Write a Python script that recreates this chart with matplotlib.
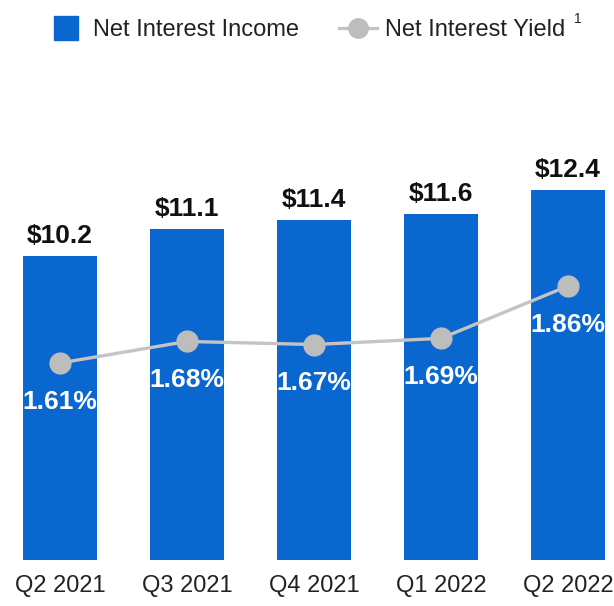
import matplotlib
matplotlib.use("Agg")
import matplotlib.pyplot as plt
from matplotlib.lines import Line2D

plt.rcParams['font.family'] = ['Liberation Sans', 'DejaVu Sans']

quarters = ["Q2 2021", "Q3 2021", "Q4 2021", "Q1 2022", "Q2 2022"]
nii = [10.2, 11.1, 11.4, 11.6, 12.4]
nii_labels = ["$10.2", "$11.1", "$11.4", "$11.6", "$12.4"]
nim = [1.61, 1.68, 1.67, 1.69, 1.86]
nim_labels = ["1.61%", "1.68%", "1.67%", "1.69%", "1.86%"]

BLUE = "#0A67CF"
GREY_M = "#BDBDBD"
GREY_L = "#C4C4C4"

W, H = 614, 606
fig = plt.figure(figsize=(W/100, H/100), dpi=100)
ax = fig.add_axes([0, 1-560/H, 1, 460/H])
ax.set_xlim(-60/127, (614-60)/127)
ax.set_ylim(0, 460/29.8)
x = list(range(len(quarters)))
bars = ax.bar(x, nii, width=0.59, color=BLUE, zorder=1)
ax.bar_label(bars, labels=nii_labels, padding=6, fontsize=19, fontweight='bold', color='#111111')

ax2 = ax.twinx()
ax2.set_ylim(1.61 - 197/308, 1.61 + 263/308)
ax2.plot(x, nim, color=GREY_L, linewidth=2.4, marker='o', markersize=15,
         markerfacecolor=GREY_M, markeredgecolor=GREY_M, zorder=3)
for xi, v, lab in zip(x, nim, nim_labels):
    ax2.annotate(lab, (xi, v), xytext=(0, -28), textcoords='offset points',
                 ha='center', va='center', fontsize=19, fontweight='bold', color='white')

for a in (ax, ax2):
    for s in a.spines.values():
        s.set_visible(False)
    a.set_yticks([])
ax.set_xticks(x)
ax.set_xticklabels(quarters, fontsize=17, color='#222222')
ax.tick_params(axis='x', length=0, pad=11)

fs = 17
handles = [
    Line2D([], [], marker='s', linestyle='none', color=BLUE, markersize=17),
    Line2D([], [], marker='o', color=GREY_L, linewidth=2.4, markersize=14,
           markerfacecolor=GREY_M, markeredgecolor=GREY_M),
]
fig.legend(handles, ["Net Interest Income", "Net Interest Yield"], loc='center left',
           bbox_to_anchor=(47/W, 1-30/H), ncol=2, frameon=False, fontsize=fs,
           borderaxespad=0, borderpad=0,
           handlelength=1.6, handletextpad=0.34, columnspacing=1.7, labelcolor='#222222')
fig.text(574/W, 1-19/H, "1", fontsize=10, color='#222222', ha='left', va='center')

fig.savefig("out.png", dpi=100)
